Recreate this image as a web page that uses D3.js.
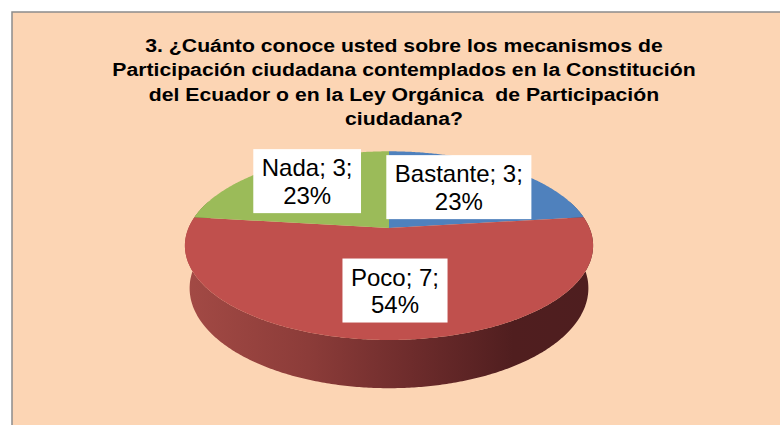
<!DOCTYPE html>
<html>
<head>
<meta charset="utf-8">
<script src="https://cdn.jsdelivr.net/npm/d3@7"></script>
<style>
html,body{margin:0;padding:0;background:#fff;}
svg{display:block;}
</style>
</head>
<body>
<svg id="chart" width="780" height="425"></svg>
<script>
// ---- data ----
const categories = ["Bastante", "Poco", "Nada"];
const values = [3, 7, 3];
const percentLabels = ["23%", "54%", "23%"];
const titleLines = [
  "3. ¿Cuánto conoce usted sobre los mecanismos de",
  "Participación ciudadana contemplados en la Constitución",
  "del Ecuador o en la Ley Orgánica  de Participación",
  "ciudadana?"
];
const colors = ["#4F81BD", "#C0504D", "#9BBB59"];

// ---- layout ----
const svg = d3.select("#chart");
svg.append("rect").attr("x", 12).attr("y", 12).attr("width", 790).attr("height", 430)
  .attr("fill", "#FCD5B4").attr("stroke", "#8C8C8C").attr("stroke-width", 1.5);

const titleG = svg.append("g");
const title = titleG.append("text")
  .attr("font-family", "'Liberation Sans', Arial, sans-serif")
  .attr("font-weight", "bold").attr("font-size", 19)
  .style("white-space", "pre")
  .attr("fill", "#000").attr("text-anchor", "middle");
const tspans = titleLines.map((t, i) =>
  title.append("tspan").attr("x", 404).attr("y", 52 + i * 24.4).text(t));
const w1 = tspans[0].node().getComputedTextLength();
const fx = 518 / w1;
titleG.attr("transform", `translate(404,0) scale(${fx},1) translate(-404,0)`);

// 3D perspective projection of a unit circle pie
const cx = 389, cy = 228, S = 200.5, k = 0.21;
const alpha = 27 * Math.PI / 180, sa = Math.sin(alpha), ca = Math.cos(alpha);
const depth = 0.24;
function proj(r, th, h) {
  const x = r * Math.sin(th), z = r * Math.cos(th);
  const den = 1 + k * (z * ca - h * sa);
  return [cx + S * x / den, cy - S * (z * sa + h * ca) / den];
}

const pie = d3.pie().sort(null).value(d => d).startAngle(0).endAngle(2 * Math.PI);
const arcs = pie(values);
const line = d3.line();

// gradient for side wall
const defs = svg.append("defs");
const grad = defs.append("linearGradient").attr("id", "wall")
  .attr("gradientUnits", "userSpaceOnUse")
  .attr("x1", 185).attr("x2", 595).attr("y1", 0).attr("y2", 0);
grad.append("stop").attr("offset", "0%").attr("stop-color", "#A34A45");
grad.append("stop").attr("offset", "30%").attr("stop-color", "#8C3C39");
grad.append("stop").attr("offset", "55%").attr("stop-color", "#6E2C2C");
grad.append("stop").attr("offset", "80%").attr("stop-color", "#501E1F");
grad.append("stop").attr("offset", "100%").attr("stop-color", "#4E1E1F");

function samples(a0, a1) {
  const n = Math.max(2, Math.ceil((a1 - a0) / 0.01));
  return d3.range(n + 1).map(i => a0 + (a1 - a0) * i / n);
}

// side walls (front facing portion)
arcs.forEach((a, i) => {
  const w0 = Math.max(a.startAngle, Math.PI * 0.4), w1 = Math.min(a.endAngle, Math.PI * 1.6);
  if (w1 <= w0) return;
  const ts = samples(w0, w1);
  const top = ts.map(t => proj(1, t, 0));
  const bot = ts.slice().reverse().map(t => proj(1, t, -depth));
  svg.append("path").attr("d", line(top.concat(bot)) + "Z")
    .attr("fill", i === 1 ? "url(#wall)" : d3.color(colors[i]).darker(1.2));
});

// top faces
arcs.forEach((a, i) => {
  const pts = [proj(0, 0, 0)].concat(samples(a.startAngle, a.endAngle).map(t => proj(1, t, 0)));
  svg.append("path").attr("d", line(pts) + "Z").attr("fill", colors[i]);
});

// labels
const nudges = [[-6, -2], [6, 1], [-6, -8]];
arcs.forEach((a, i) => {
  const mid = (a.startAngle + a.endAngle) / 2;
  const r = i === 1 ? 0.6 : 0.62;
  const p = proj(r, mid, 0);
  const lx = p[0] + nudges[i][0], ly = p[1] + nudges[i][1];
  const g = svg.append("g");
  const t = g.append("text").attr("font-family", "'Liberation Sans', Arial, sans-serif")
    .attr("font-size", 24).attr("fill", "#000").attr("text-anchor", "middle");
  t.append("tspan").attr("x", lx).attr("y", ly - 5).text(categories[i] + "; " + values[i] + ";");
  t.append("tspan").attr("x", lx).attr("y", ly + 22.6).text(percentLabels[i]);
  const bb = t.node().getBBox();
  g.insert("rect", "text").attr("x", lx - bb.width / 2 - 8.5).attr("y", ly - 32)
    .attr("width", bb.width + 17).attr("height", 64).attr("fill", "#fff");
});
</script>
</body>
</html>
